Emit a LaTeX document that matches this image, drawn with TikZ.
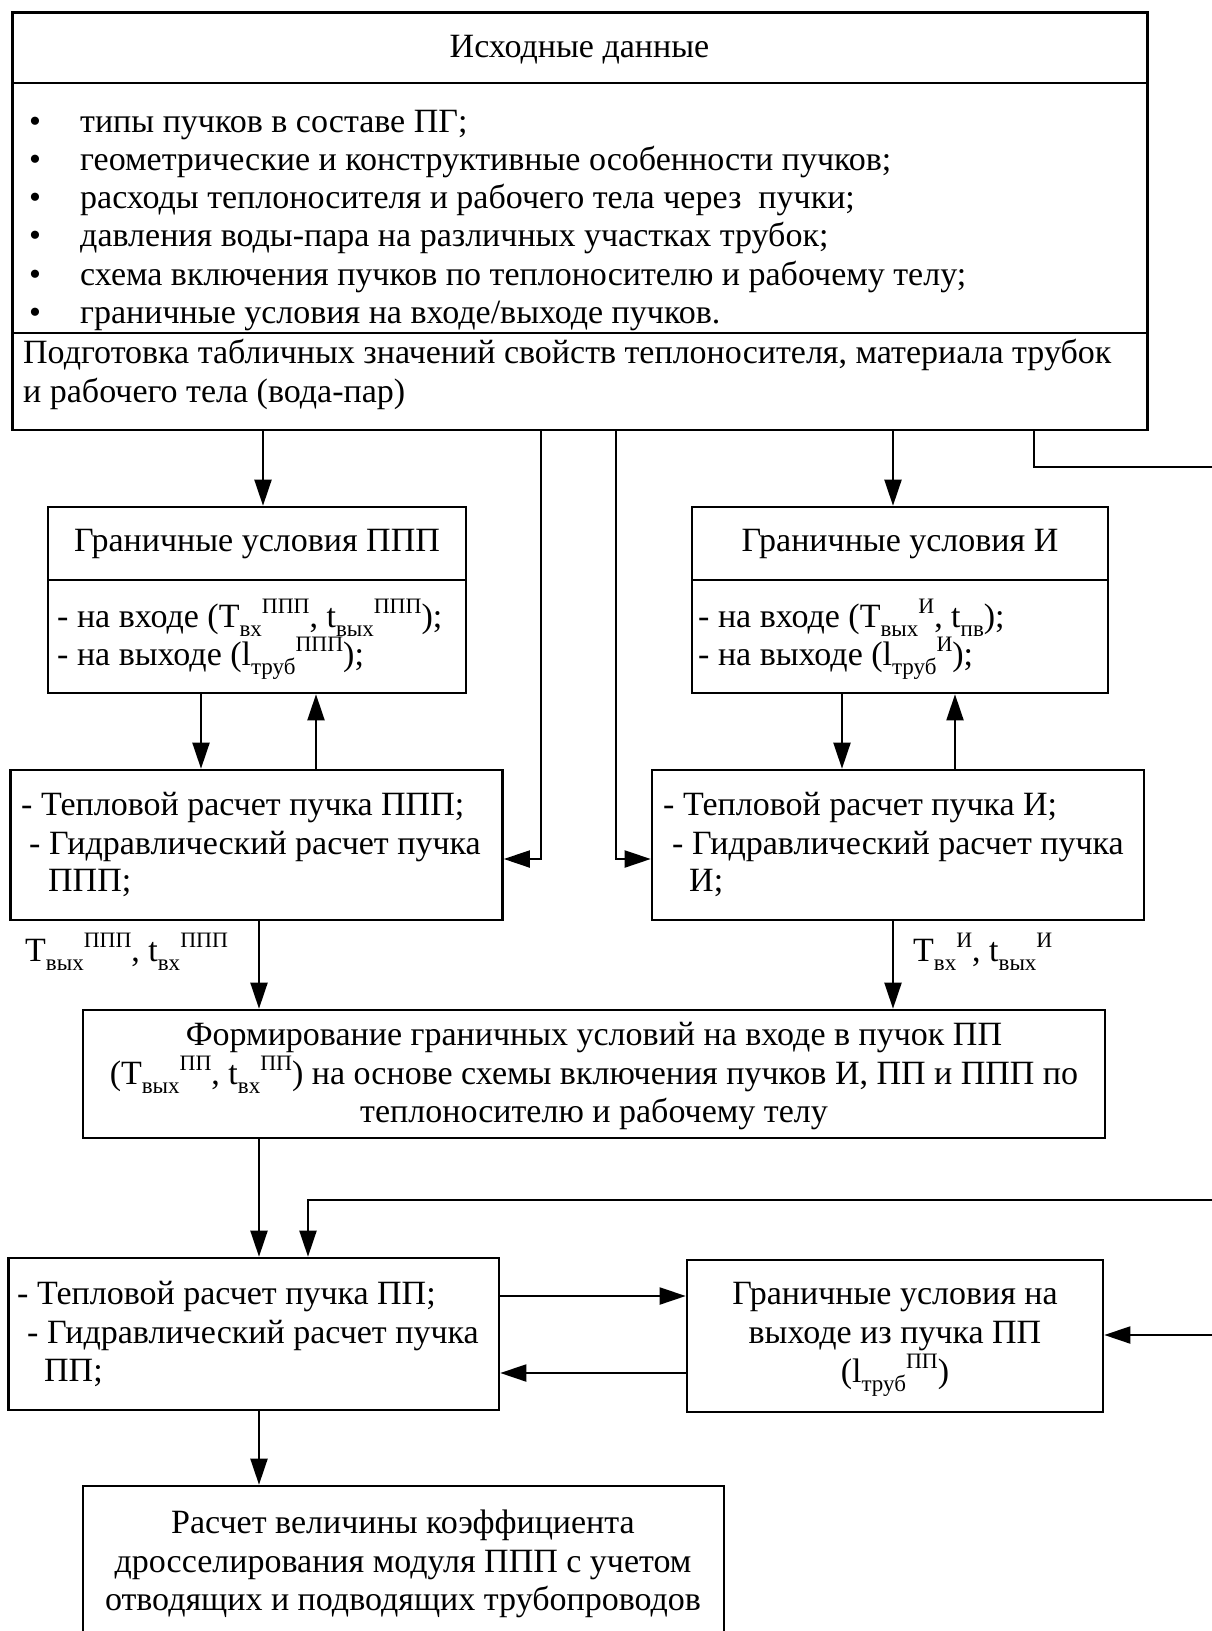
\documentclass[tikz,border=0pt]{standalone}
\usepackage{fontspec}
\setmainfont{Liberation Serif}
\usetikzlibrary{arrows.meta,fit}
\newcommand{\mysub}[1]{\raisebox{-0.28em}{\fontsize{23}{23}\selectfont #1}}
\newcommand{\mysup}[1]{\raisebox{0.40em}{\fontsize{22}{22}\selectfont #1}}
\begin{document}
\begin{tikzpicture}[x=1pt,y=-1pt,
  every node/.style={font=\fontsize{34}{40}\selectfont},
  box/.style={draw, line width=2.6pt, inner sep=0pt},
  conn/.style={line width=2pt},
  arr/.style={conn, -{Triangle[length=26pt,width=17pt]}},
  txt/.style={anchor=west, inner sep=0pt, text height=0.68em, text depth=0.22em, yshift=-7pt},
  ctxt/.style={txt, anchor=center}]
\useasboundingbox (0,0) rectangle (1211,1631);
\fill[white] (0,0) rectangle (1211,1631);

% boxes
\node[box, fit={(12.5,12.5) (1147.5,83)}] (title) {};
\node[box, fit={(12.5,83) (1147.5,333)}] (bul) {};
\node[box, fit={(12.5,333) (1147.5,430)}] (podg) {};
\node[box, fit={(48,507) (466,580)}] (gpppT) {};
\node[box, fit={(48,580) (466,693)}] (gppp) {};
\node[box, fit={(692,507) (1108,580)}] (giT) {};
\node[box, fit={(692,580) (1108,693)}] (gi) {};
\node[box, fit={(10.5,770) (502.5,920)}] (tppp) {};
\node[box, fit={(652,770) (1144,920)}] (ti) {};
\node[box, fit={(83,1010) (1105,1138)}] (form) {};
\node[box, fit={(8.5,1258) (499,1410)}] (tpp) {};
\node[box, fit={(687,1260) (1103,1412)}] (gpp) {};
\node[box, fit={(83,1486) (724,1670)}] (res) {};

% texts
\node[ctxt] (t0) at (579.5,48) {Исходные данные};
\foreach \i/\yy/\t in {
  1/123/{типы пучков в составе ПГ;},
  2/161.2/{геометрические и конструктивные особенности пучков;},
  3/199.4/{расходы теплоносителя и рабочего тела через\ \ пучки;},
  4/237.6/{давления воды-пара на различных участках трубок;},
  5/275.8/{схема включения пучков по теплоносителю и рабочему телу;},
  6/314/{граничные условия на входе/выходе пучков.}}{
  \node[txt] (bm\i) at (29,\yy) {\textbullet};
  \node[txt] (b\i) at (80,\yy) {\t};
}
\node[txt] (p1) at (23,354) {Подготовка табличных значений свойств теплоносителя, материала трубок};
\node[txt] (p2) at (23,393) {и рабочего тела (вода-пар)};

\node[ctxt] (gpppt) at (257,542) {Граничные условия ППП};
\node[txt] (gppp1) at (57,618) {- на входе (T\mysub{вх}\mysup{ППП}, t\mysub{вых}\mysup{ППП});};
\node[txt] (gppp2) at (57,656) {- на выходе (l\mysub{труб}\mysup{ППП});};

\node[ctxt] (git) at (900,542) {Граничные условия И};
\node[txt] (gi1) at (698,618) {- на входе (T\mysub{вых}\mysup{И}, t\mysub{пв});};
\node[txt] (gi2) at (698,656) {- на выходе (l\mysub{труб}\mysup{И});};

\node[txt] (tppp1) at (21,806) {- Тепловой расчет пучка ППП;};
\node[txt] (tppp2) at (29,845) {- Гидравлический расчет пучка};
\node[txt] (tppp3) at (48,882) {ППП;};

\node[txt] (ti1) at (663,806) {- Тепловой расчет пучка И;};
\node[txt] (ti2) at (672,845) {- Гидравлический расчет пучка};
\node[txt] (ti3) at (689,882) {И;};

\node[txt] (lab1) at (25,952) {T\mysub{вых}\mysup{ППП}, t\mysub{вх}\mysup{ППП}};
\node[txt] (lab2) at (913,952) {T\mysub{вх}\mysup{И}, t\mysub{вых}\mysup{И}};

\node[ctxt] (f1) at (594,1036) {Формирование граничных условий на входе в пучок ПП};
\node[ctxt] (f2) at (594,1075) {(T\mysub{вых}\mysup{ПП}, t\mysub{вх}\mysup{ПП}) на основе схемы включения пучков И, ПП и ППП по};
\node[ctxt] (f3) at (594,1113) {теплоносителю и рабочему телу};

\node[txt] (tpp1) at (17,1295) {- Тепловой расчет пучка ПП;};
\node[txt] (tpp2) at (27,1334) {- Гидравлический расчет пучка};
\node[txt] (tpp3) at (44,1372) {ПП;};

\node[ctxt] (gpp1) at (895,1295) {Граничные условия на};
\node[ctxt] (gpp2) at (895,1334) {выходе из пучка ПП};
\node[ctxt] (gpp3) at (895,1373) {(l\mysub{труб}\mysup{ПП})};

\node[ctxt] (r1) at (403,1524) {Расчет величины коэффициента};
\node[ctxt] (r2) at (403,1563) {дросселирования модуля ППП с учетом};
\node[ctxt] (r3) at (403,1601) {отводящих и подводящих трубопроводов};

% helper coordinates
\coordinate (xa) at (263,0);
\coordinate (xb) at (259,0);
\coordinate (xc) at (541,0);
\coordinate (xd) at (616,0);
\coordinate (xe) at (893,0);
\coordinate (xf) at (1034,0);
\coordinate (xg) at (201,0);
\coordinate (xh) at (316,0);
\coordinate (xi) at (842,0);
\coordinate (xj) at (955,0);
\coordinate (xk) at (308,0);
\coordinate (yA) at (0,859);
\coordinate (yD) at (0,1296);
\coordinate (yE) at (0,1373);
\coordinate (eA) at (1225,467);
\coordinate (eB) at (1225,1199.6);
\coordinate (eC) at (1225,1335);

% connectors
\draw[arr] (podg.south -| xa) -- (gpppT.north -| xa);
\draw[arr] (podg.south -| xc) |- (tppp.east |- yA);
\draw[arr] (podg.south -| xd) |- (ti.west |- yA);
\draw[arr] (podg.south -| xe) -- (giT.north -| xe);
\draw[conn] (podg.south -| xf) |- (eA);
\draw[arr] (gppp.south -| xg) -- (tppp.north -| xg);
\draw[arr] (tppp.north -| xh) -- (gppp.south -| xh);
\draw[arr] (gi.south -| xi) -- (ti.north -| xi);
\draw[arr] (ti.north -| xj) -- (gi.south -| xj);
\draw[arr] (tppp.south -| xb) -- (form.north -| xb);
\draw[arr] (ti.south -| xe) -- (form.north -| xe);
\draw[arr] (form.south -| xb) -- (tpp.north -| xb);
\draw[arr] (eB) -| (tpp.north -| xk);
\draw[arr] (tpp.east |- yD) -- (gpp.west |- yD);
\draw[arr] (gpp.west |- yE) -- (tpp.east |- yE);
\draw[arr] (eC) -- (gpp.east |- eC);
\draw[arr] (tpp.south -| xb) -- (res.north -| xb);
\end{tikzpicture}
\end{document}
